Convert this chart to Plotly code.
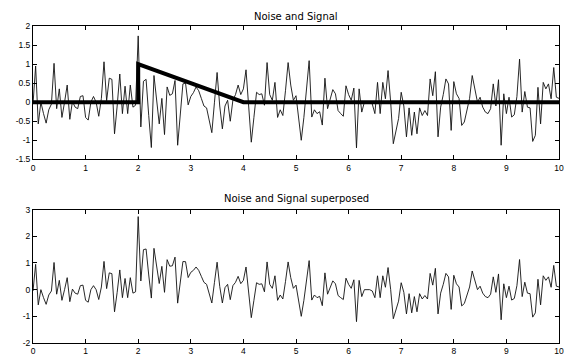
import numpy as np
import plotly.graph_objects as go

# ---- data ----
dt = 0.05
noise = [
    -0.05, 0.95, -0.57, 0.0, -0.3, -0.55, -0.2, -0.05, 1.02, -0.17,
    0.35, -0.4, 0.0, 0.45, -0.45, 0.02, -0.13, -0.17, 0.15, 0.17,
    -0.4, -0.47, 0.0, 0.15, 0.0, -0.37, 0.1, 1.06, 0.04, 0.63,
    0.6, -0.83, -0.1, 0.74, -0.3, 0.42, -0.3, 0.45, -0.13, -0.08,
    1.74, -0.65, 0.55, 0.6, -0.35, -1.19, 0.7, 0.1, -0.57, 0.1,
    -0.85, 0.4, 0.18, 0.22, 0.57, -1.13, -0.35, 0.48, 0.5, -0.07,
    0.15, 0.25, 0.4, 0.3, 0.1, -0.1, -0.15, -0.5, -0.8, 0.0,
    0.78, -0.1, -0.7, -0.1, 0.05, -0.5, 0.05, 0.2, 0.45, 0.2,
    0.35, 0.85, -0.2, -1.05, -0.4, 0.26, 0.2, 0.22, -0.08, 1.04,
    0.2, 0.05, 0.52, -0.4, -0.2, -0.35, 0.3, 1.04, 0.45, 0.05,
    0.17, -0.4, -1.0, -0.4, 0.3, 1.09, -0.39, -0.2, -0.3, -0.25,
    -0.6, 0.63, -0.17, 0.1, 0.33, 0.22, -0.22, -0.3, -0.37, 0.43,
    0.2, 0.05, 0.37, -1.2, 0.35, -0.26, 0.0, 0.0, 0.0, -0.05,
    -0.3, 0.52, -0.3, 0.52, 0.09, 0.83, 0.0, -1.09, -0.75, -0.43,
    0.26, -0.1, -0.91, -0.15, -0.87, -0.26, -0.83, -0.15, -0.35, -0.22,
    -0.35, 0.61, 0.17, 0.8, -0.91, -0.13, 0.2, 0.61, 0.48, -0.74,
    0.54, 0.22, 0.1, -0.61, -0.52, -0.2, 0.1, 0.7, 0.35, 0.0,
    0.13, -0.13, -0.26, -0.3, -0.17, 0.48, -0.1, 0.59, -1.13, 0.22,
    -0.3, 0.13, -0.39, -0.33, 0.15, 1.13, -0.26, 0.28, -0.13, -0.15,
    -1.03, -0.87, 0.39, -0.57, 0.52, 0.35, 0.48, 0.09, 0.91, 0.13,
    0.1,
]
signal_x = [0, 2, 2, 4, 10]
signal_y = [0, 0, 1, 0, 0]

x_ticks = [0, 1, 2, 3, 4, 5, 6, 7, 8, 9, 10]
x_ticktext = ["0", "1", "2", "3", "4", "5", "6", "7", "8", "9", "10"]
top_yticks = [-1.5, -1, -0.5, 0, 0.5, 1, 1.5, 2]
top_yticktext = ["-1.5", "-1", "-0.5", "0", "0.5", "1", "1.5", "2"]
bot_yticks = [-2, -1, 0, 1, 2, 3]
bot_yticktext = ["-2", "-1", "0", "1", "2", "3"]
titles = ["Noise and Signal", "Noise and Signal superposed"]

# ---- derived ----
t = np.arange(len(noise)) * dt
noise_arr = np.array(noise)
# signal sampled at t (jump at x=2 belongs to the ramp)
sig = np.where(t < signal_x[1], 0.0,
               np.interp(t, signal_x[2:], signal_y[2:]))
superposed = noise_arr + sig

fig = go.Figure()
fig.add_trace(go.Scatter(x=t, y=noise_arr, mode="lines",
                         line=dict(color="#111", width=0.9),
                         xaxis="x", yaxis="y", showlegend=False))
fig.add_trace(go.Scatter(x=signal_x, y=signal_y, mode="lines",
                         line=dict(color="#000", width=4),
                         xaxis="x", yaxis="y", showlegend=False))
fig.add_trace(go.Scatter(x=t, y=superposed, mode="lines",
                         line=dict(color="#111", width=0.9),
                         xaxis="x2", yaxis="y2", showlegend=False))

tickfont = dict(family="Liberation Sans, Arial, sans-serif", size=8.5, color="#000")
axis_common = dict(showline=True, linecolor="#000", linewidth=1, mirror="ticks",
                   ticks="inside", ticklen=4, tickcolor="#000", tickwidth=1,
                   showgrid=False, zeroline=False, tickfont=tickfont,
                   ticklabeloverflow="allow")

fig.update_layout(
    width=566, height=358,
    margin=dict(l=33, r=2, t=26, b=11),
    paper_bgcolor="white", plot_bgcolor="white",
    xaxis=dict(domain=[0, 1], range=[0, 10], anchor="y",
               tickvals=x_ticks, ticktext=x_ticktext, **axis_common),
    yaxis=dict(domain=[0.5794, 1], range=[-1.5, 2], anchor="x",
               tickvals=top_yticks, ticktext=top_yticktext, **axis_common),
    xaxis2=dict(domain=[0, 1], range=[0, 10], anchor="y2",
                tickvals=x_ticks, ticktext=x_ticktext, **axis_common),
    yaxis2=dict(domain=[0, 0.4206], range=[-2, 3], anchor="x2",
                tickvals=bot_yticks, ticktext=bot_yticktext, **axis_common),
    annotations=[
        dict(text=titles[0], xref="paper", yref="paper", x=0.5, y=1,
             yanchor="middle", yshift=10, showarrow=False,
             font=dict(family="DejaVu Sans, sans-serif", size=10, color="#000")),
        dict(text=titles[1], xref="paper", yref="paper", x=0.5, y=0.4206,
             yanchor="middle", yshift=11, showarrow=False,
             font=dict(family="DejaVu Sans, sans-serif", size=10, color="#000")),
    ],
)

fig.write_html("out.html")
